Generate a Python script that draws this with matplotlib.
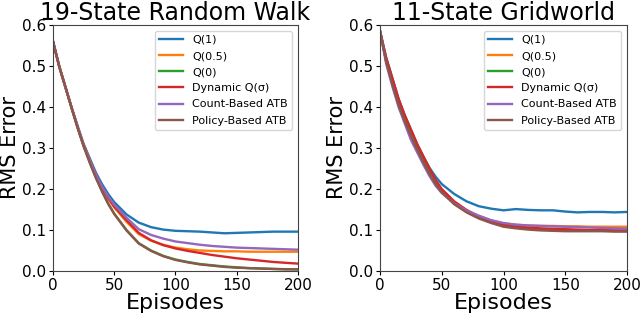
import matplotlib
matplotlib.use('Agg')
import matplotlib.pyplot as plt

episodes = [0, 5, 10, 15, 20, 25, 30, 35, 40, 45, 50, 60, 70, 80, 90,
            100, 110, 120, 130, 140, 150, 160, 170, 180, 190, 200]

labels = ['Q(1)', 'Q(0.5)', 'Q(0)', 'Dynamic Q(σ)', 'Count-Based ATB', 'Policy-Based ATB']
colors = ['tab:blue', 'tab:orange', 'tab:green', 'tab:red', 'tab:purple', 'tab:brown']

# 19-state random walk
rw_q1 = [0.56, 0.50, 0.45, 0.40, 0.355, 0.31, 0.275, 0.24, 0.212, 0.188, 0.168, 0.138, 0.118,
         0.107, 0.101, 0.098, 0.097, 0.096, 0.094, 0.092, 0.093, 0.094, 0.095, 0.096, 0.096, 0.096]
rw_q05 = [0.56, 0.50, 0.45, 0.40, 0.352, 0.307, 0.27, 0.234, 0.203, 0.177, 0.155, 0.12, 0.09,
          0.074, 0.064, 0.057, 0.053, 0.050, 0.049, 0.048, 0.048, 0.047, 0.047, 0.047, 0.047, 0.047]
rw_q0 = [0.56, 0.50, 0.45, 0.40, 0.35, 0.305, 0.265, 0.228, 0.195, 0.165, 0.14, 0.10, 0.068,
         0.050, 0.037, 0.028, 0.022, 0.017, 0.014, 0.011, 0.009, 0.007, 0.006, 0.005, 0.0045, 0.004]
rw_dyn = [0.56, 0.50, 0.45, 0.40, 0.352, 0.307, 0.27, 0.235, 0.205, 0.179, 0.157, 0.124, 0.093,
          0.075, 0.063, 0.055, 0.049, 0.044, 0.039, 0.035, 0.031, 0.028, 0.025, 0.022, 0.020, 0.018]
rw_count = [0.56, 0.50, 0.45, 0.40, 0.352, 0.307, 0.27, 0.235, 0.206, 0.182, 0.162, 0.13, 0.102,
            0.088, 0.079, 0.072, 0.068, 0.064, 0.061, 0.059, 0.057, 0.056, 0.055, 0.054, 0.053, 0.052]
rw_policy = [0.56, 0.50, 0.45, 0.40, 0.35, 0.304, 0.264, 0.227, 0.194, 0.164, 0.139, 0.099, 0.067,
             0.049, 0.036, 0.027, 0.021, 0.016, 0.013, 0.010, 0.008, 0.007, 0.006, 0.005, 0.004, 0.004]

# 11-state gridworld
gw_q1 = [0.585, 0.52, 0.47, 0.42, 0.38, 0.345, 0.31, 0.28, 0.252, 0.23, 0.212, 0.188, 0.17,
         0.158, 0.152, 0.148, 0.151, 0.149, 0.148, 0.148, 0.145, 0.143, 0.144, 0.144, 0.143, 0.144]
gw_q05 = [0.585, 0.512, 0.458, 0.41, 0.37, 0.335, 0.30, 0.27, 0.242, 0.217, 0.197, 0.168, 0.148,
          0.134, 0.123, 0.116, 0.113, 0.111, 0.110, 0.110, 0.109, 0.109, 0.108, 0.108, 0.108, 0.108]
gw_q0 = [0.585, 0.512, 0.46, 0.41, 0.37, 0.335, 0.30, 0.27, 0.24, 0.215, 0.195, 0.166, 0.146,
         0.13, 0.119, 0.111, 0.106, 0.103, 0.101, 0.100, 0.099, 0.099, 0.098, 0.098, 0.098, 0.098]
gw_dyn = [0.585, 0.52, 0.47, 0.42, 0.38, 0.345, 0.31, 0.28, 0.25, 0.222, 0.20, 0.17, 0.149,
          0.133, 0.121, 0.113, 0.109, 0.106, 0.104, 0.103, 0.102, 0.101, 0.100, 0.100, 0.099, 0.099]
gw_count = [0.585, 0.505, 0.45, 0.40, 0.36, 0.32, 0.29, 0.26, 0.232, 0.208, 0.19, 0.165, 0.147,
            0.135, 0.124, 0.117, 0.113, 0.111, 0.110, 0.109, 0.108, 0.107, 0.106, 0.105, 0.104, 0.103]
gw_policy = [0.585, 0.51, 0.455, 0.405, 0.365, 0.33, 0.297, 0.266, 0.237, 0.212, 0.192, 0.163, 0.143,
             0.128, 0.117, 0.108, 0.104, 0.101, 0.099, 0.098, 0.097, 0.097, 0.097, 0.097, 0.096, 0.096]

panels = [
    ('19-State Random Walk', [rw_q1, rw_q05, rw_q0, rw_dyn, rw_count, rw_policy]),
    ('11-State Gridworld', [gw_q1, gw_q05, gw_q0, gw_dyn, gw_count, gw_policy]),
]

fig = plt.figure(figsize=(6.4, 3.16), dpi=100)
rects = [[0.0828, 0.1424, 0.3828, 0.7785], [0.5938, 0.1424, 0.3859, 0.7785]]

for rect, (title, series) in zip(rects, panels):
    ax = fig.add_axes(rect)
    for ys, lab, c in zip(series, labels, colors):
        ax.plot(episodes, ys, color=c, lw=1.7, label=lab)
    ax.set_xlim(0, 200)
    ax.set_ylim(0, 0.6)
    ax.set_xticks([0, 50, 100, 150, 200])
    ax.set_yticks([0.0, 0.1, 0.2, 0.3, 0.4, 0.5, 0.6])
    ax.tick_params(labelsize=11, length=3, pad=2)
    for s in ax.spines.values():
        s.set_color('#444444')
    ax.set_title(title, fontsize=17, pad=2)
    ax.set_xlabel('Episodes', fontsize=16, labelpad=0)
    ax.set_ylabel('RMS Error', fontsize=15, labelpad=1)
    ax.legend(loc='upper right', fontsize=8, labelspacing=0.55, handlelength=2.2)

fig.savefig('out.png', dpi=100)
